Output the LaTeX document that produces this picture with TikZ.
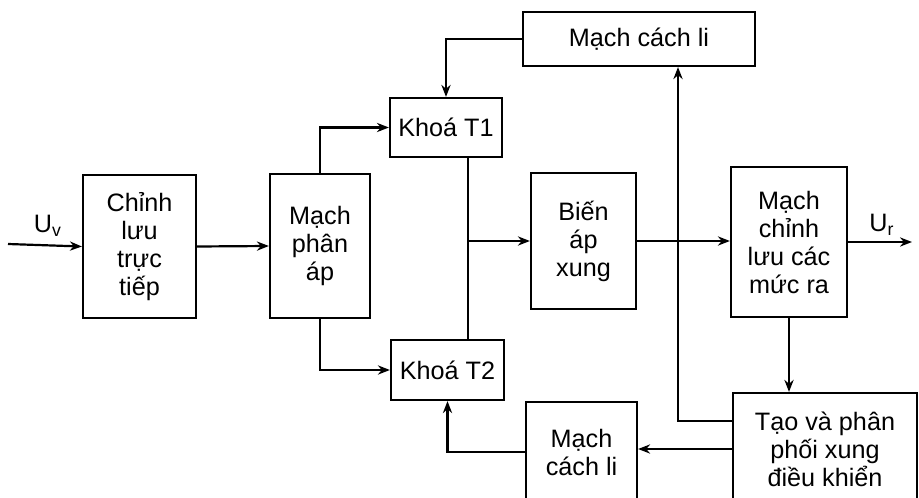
\documentclass[tikz,border=0pt]{standalone}
\usepackage{fontspec}
\setmainfont{Liberation Sans}
\usepackage{tikz}
\usetikzlibrary{arrows.meta, positioning, calc}
\tikzset{
  blk/.style={rectangle,draw=black,line width=1.1pt,fill=white,align=center,inner sep=0pt,font=\fontsize{12.6}{14}\selectfont},
  arr/.style={-{Stealth[length=6pt,width=4.6pt]},line width=1.1pt},
  wire/.style={line width=1.1pt},
  lbl/.style={font=\fontsize{12.6}{14}\selectfont,inner sep=0pt}
}
\begin{document}
\begin{tikzpicture}[x=0.5pt,y=-0.5pt]
  \useasboundingbox (0,0) rectangle (919,497);

  % blocks
  \node[blk,minimum width=56.5pt,minimum height=71.5pt] (chinh)   at (139.5,246.5) {Chỉnh\\lưu\\trực\\tiếp};
  \node[blk,minimum width=50pt,minimum height=72pt]     (phanap)  at (320,246)     {Mạch\\phân\\áp};
  \node[blk,minimum width=56pt,minimum height=29.5pt]   (khoa1)   at (446,127.5)   {Khoá T1};
  \node[blk,minimum width=56.5pt,minimum height=30pt]   (khoa2)   at (447.5,370)   {Khoá T2};
  \node[blk,minimum width=116pt,minimum height=27pt]    (cachli1) at (639,39)      {Mạch cách li};
  \node[blk,minimum width=52.5pt,minimum height=68pt]   (bienap)  at (583.5,241)   {Biến\\áp\\xung};
  \node[blk,minimum width=58pt,minimum height=75pt]     (chinhra) at (789,242)     {Mạch\\chỉnh\\lưu các\\mức ra};
  \node[blk,minimum width=92pt,minimum height=56pt]     (taoxung) at (825,449)     {Tạo và phân\\phối xung\\điều khiển};
  \node[blk,minimum width=55.5pt,minimum height=50pt]   (cachli2) at (581.5,452)   {Mạch\\cách li};

  % in / out
  \coordinate (uv) at (8,244);
  \coordinate (ur) at (912,242);
  \node[lbl] (uvl) at (48,226)  {U\textsubscript{v}};
  \node[lbl] (url) at (882,225) {U\textsubscript{r}};

  \draw[arr] (uv) -- (chinh.west);
  \draw[arr] (chinh.east) -- (phanap.west);
  \draw[arr] (phanap.north) |- (khoa1.west);
  \draw[arr] (phanap.south) |- (khoa2.west);
  \draw[arr] (cachli1.west) -| (khoa1.north);

  % common output of the switches
  \coordinate (bus) at ([xshift=11pt]khoa1.south);
  \draw[wire] (bus) -- (bus |- khoa2.north);
  \draw[arr] (bus |- bienap.west) -- (bienap.west);

  \draw[arr] (bienap.east) -- (bienap.east -| chinhra.west);
  \draw[arr] (chinhra.east) -- (ur);
  \draw[arr] (chinhra.south) -- (chinhra.south |- taoxung.north);

  % feedback
  \draw[arr] ([yshift=14pt]taoxung.west) -| ([xshift=19.5pt]cachli1.south);
  \draw[arr] (taoxung.west) -- (taoxung.west -| cachli2.east);
  \draw[arr] (cachli2.west) -| (khoa2.south);
\end{tikzpicture}
\end{document}
